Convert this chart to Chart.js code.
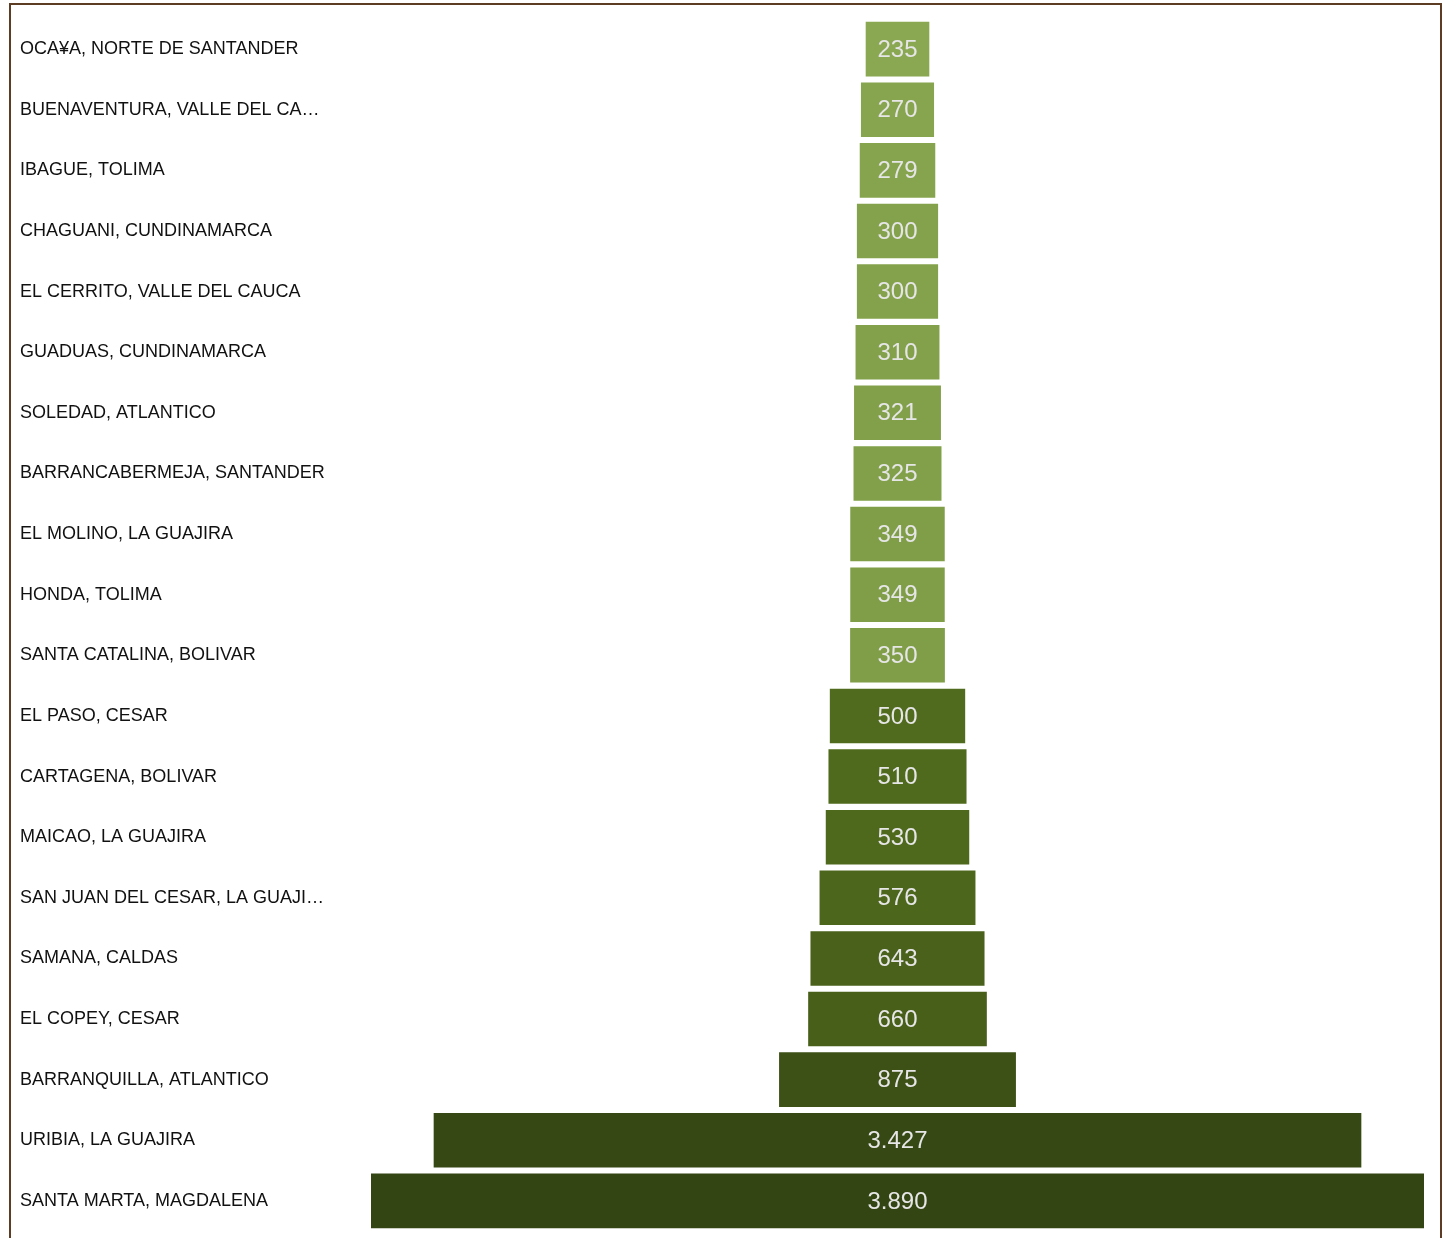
<!DOCTYPE html>
<html>
<head>
<meta charset="utf-8">
<script src="https://cdn.jsdelivr.net/npm/chart.js@4.4.1/dist/chart.umd.min.js"></script>
<style>
  body { margin: 0; background: #fff; overflow: hidden; }
  #marco {
    position: absolute; left: 9px; top: 3px;
    width: 1429px; height: 1300px;
    border: 2px solid #5c3d24;
  }
  #grafico { position: absolute; left: 0; top: 0; }
</style>
</head>
<body>
<div id="marco">
  <canvas id="grafico" width="1420" height="1240"></canvas>
</div>
<script>
const municipios = [
    'OCA¥A, NORTE DE SANTANDER',
    'BUENAVENTURA, VALLE DEL CA…',
    'IBAGUE, TOLIMA',
    'CHAGUANI, CUNDINAMARCA',
    'EL CERRITO, VALLE DEL CAUCA',
    'GUADUAS, CUNDINAMARCA',
    'SOLEDAD, ATLANTICO',
    'BARRANCABERMEJA, SANTANDER',
    'EL MOLINO, LA GUAJIRA',
    'HONDA, TOLIMA',
    'SANTA CATALINA, BOLIVAR',
    'EL PASO, CESAR',
    'CARTAGENA, BOLIVAR',
    'MAICAO, LA GUAJIRA',
    'SAN JUAN DEL CESAR, LA GUAJI…',
    'SAMANA, CALDAS',
    'EL COPEY, CESAR',
    'BARRANQUILLA, ATLANTICO',
    'URIBIA, LA GUAJIRA',
    'SANTA MARTA, MAGDALENA'
];
const valores = [235, 270, 279, 300, 300, 310, 321, 325, 349, 349, 350, 500, 510, 530, 576, 643, 660, 875, 3427, 3890];

const maximo = Math.max(...valores);

function mezclar(c1, c2, t) {
    const a = [parseInt(c1.slice(1, 3), 16), parseInt(c1.slice(3, 5), 16), parseInt(c1.slice(5, 7), 16)];
    const b = [parseInt(c2.slice(1, 3), 16), parseInt(c2.slice(3, 5), 16), parseInt(c2.slice(5, 7), 16)];
    const r = a.map((v, i) => Math.round(v + (b[i] - v) * t));
    return `rgb(${r[0]}, ${r[1]}, ${r[2]})`;
}

function colorPorValor(v) {
    if (v < 400) return mezclar('#8aa751', '#7f9e47', (v - 235) / 115);
    if (v < 1000) return mezclar('#506b1d', '#3d5016', (v - 500) / 375);
    return mezclar('#364814', '#334512', (v - 3427) / 463);
}

function formatear(v) {
    return v.toString().replace(/\B(?=(\d{3})+(?!\d))/g, '.');
}

const etiquetasValor = {
    id: 'etiquetasValor',
    afterDatasetsDraw(chart) {
        const ctx = chart.ctx;
        const meta = chart.getDatasetMeta(0);
        ctx.save();
        ctx.font = '24px "Liberation Sans", Arial, sans-serif';
        ctx.fillStyle = '#e6e6e6';
        ctx.textAlign = 'center';
        ctx.textBaseline = 'middle';
        meta.data.forEach((barra, i) => {
            const centro = barra.getCenterPoint();
            ctx.fillText(formatear(valores[i]), centro.x, centro.y + 1);
        });
        ctx.restore();
    }
};

const contexto = document.getElementById('grafico').getContext('2d');
new Chart(contexto, {
    type: 'bar',
    data: {
        labels: municipios,
        datasets: [{
            data: valores.map(v => [-v / 2, v / 2]),
            backgroundColor: valores.map(colorPorValor),
            borderWidth: 0,
            barPercentage: 0.9,
            categoryPercentage: 1.0,
        }],
    },
    options: {
        indexAxis: 'y',
        responsive: false,
        animation: false,
        layout: { padding: { left: 9, right: 7, top: 12.7, bottom: 6.3 } },
        plugins: {
            legend: { display: false },
            tooltip: { enabled: false },
        },
        scales: {
            x: {
                display: false,
                min: -maximo / 2,
                max: maximo / 2,
            },
            y: {
                grid: { display: false },
                border: { display: false },
                afterFit: (eje) => { eje.width = 351; },
                ticks: {
                    crossAlign: 'far',
                    color: '#111111',
                    font: { family: '"Liberation Sans", Arial, sans-serif', size: 18 },
                    autoSkip: false,
                },
            },
        },
    },
    plugins: [etiquetasValor],
});
</script>
</body>
</html>
